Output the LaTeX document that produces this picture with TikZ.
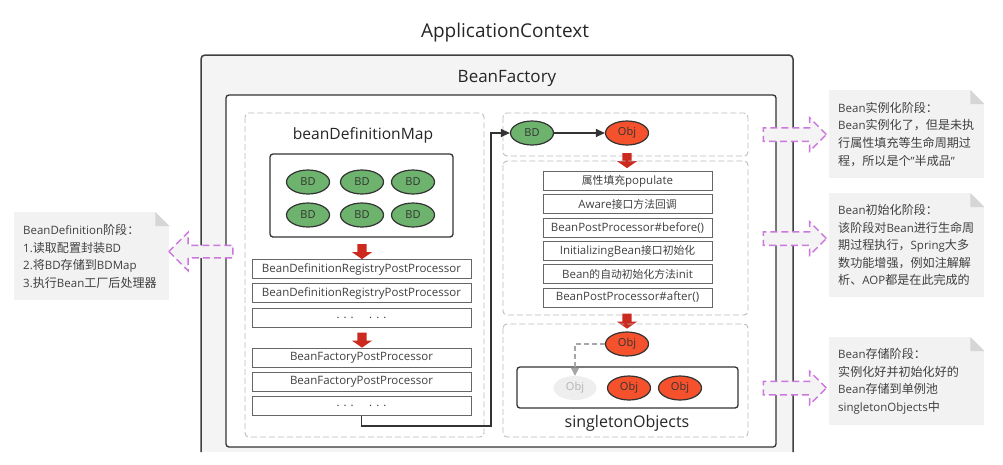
\documentclass[tikz,border=0pt]{standalone}
\usepackage{fontspec}
\setmainfont{Open Sans}
\newfontfamily\zh{Noto Sans CJK SC}[Scale=0.94]
\newfontfamily\zhnote{Noto Sans CJK SC}[Scale=1.05]
\usepackage{xcolor}
\usetikzlibrary{shapes.geometric, shapes.arrows, arrows.meta, positioning}

\definecolor{linedark}{HTML}{333333}
\definecolor{bdgreen}{HTML}{6DB36D}
\definecolor{objred}{HTML}{F4512C}
\definecolor{arrowred}{HTML}{CC2A1F}
\definecolor{ghostgray}{HTML}{EEEEEE}
\definecolor{dashgray}{HTML}{BBBBBB}
\definecolor{boxgray}{HTML}{F4F4F4}
\definecolor{notegray}{HTML}{F2F2F2}
\definecolor{foldgray}{HTML}{D6D6D6}
\definecolor{hintpink}{HTML}{CC77DD}

\begin{document}
\begin{tikzpicture}[
        x=1pt, y=-1pt,
        bd/.style={ellipse, draw=linedark, line width=1.2pt, fill=bdgreen, minimum width=43pt, minimum height=24pt, inner sep=0pt, text=black!80, font=\fontsize{11}{11}\selectfont},
        obj/.style={bd, fill=objred},
        ghost/.style={ellipse, fill=ghostgray, minimum width=43pt, minimum height=24pt, inner sep=0pt, text=black!30, font=\fontsize{11}{11}\selectfont},
        procbox/.style={draw=black!60, line width=0.8pt, minimum width=219pt, minimum height=19pt, inner sep=0pt, text=black!75, font=\fontsize{11.5}{11.5}\selectfont},
        lifebox/.style={procbox, minimum width=169pt},
        stage/.style={draw=dashgray, dash pattern=on 6pt off 3pt, rounded corners=4pt, line width=0.9pt},
        holder/.style={draw=linedark, line width=1.3pt, rounded corners=3pt, fill=white},
        downarrow/.style={single arrow, fill=arrowred, rotate=-90, minimum height=15pt, inner xsep=0pt, inner ysep=4.5pt, single arrow head extend=5.5pt, single arrow tip angle=110},
        hint/.style={single arrow, draw=hintpink, fill=boxgray, dash pattern=on 7pt off 4pt, line width=1.5pt, inner xsep=0pt, single arrow tip angle=90},
        note/.style={fill=notegray, minimum width=155pt, minimum height=88pt, inner sep=0pt, text width=137pt, align=left, text=black!75, font=\fontsize{11.5}{17.6}\selectfont},
        conn/.style={draw=linedark, line width=1.2pt, -{Triangle[length=9pt, width=8pt]}}
    ]
    \useasboundingbox (0,0) rectangle (1003,464);

    % ApplicationContext / BeanFactory
    \node[font=\fontsize{19}{19}\selectfont, text=black!85] (appctx) at (505,33) {ApplicationContext};
    \fill[boxgray] (201,55) rectangle (793,452);
    \draw[draw=black!75, line width=1.5pt, rounded corners=4pt] (201,452) -- (201,55) -- (793,55) -- (793,452);
    \node[font=\fontsize{17}{17}\selectfont, text=black!85] (factory) at (507,78) {BeanFactory};
    \draw[holder] (226,95) rectangle (776,447);

    % beanDefinitionMap
    \draw[stage] (245,113) rectangle (484,437);
    \node[font=\fontsize{15.6}{15.6}\selectfont, text=black!85] (bdmap) at (363,135) {beanDefinitionMap};
    \draw[holder] (270,154) rectangle (453,237);
    \node[bd] (bd1) at (308,182) {BD};
    \node[bd] (bd2) at (362,182) {BD};
    \node[bd] (bd3) at (413,182) {BD};
    \node[bd] (bd4) at (308,215) {BD};
    \node[bd] (bd5) at (362,215) {BD};
    \node[bd] (bd6) at (413,215) {BD};
    \node[downarrow] (down1) at (362,250) {};

    \node[procbox] (p1) at (361.5,269) {BeanDefinitionRegistryPostProcessor};
    \node[procbox, below=4.5pt of p1] (p2) {BeanDefinitionRegistryPostProcessor};
    \node[procbox, below=4.5pt of p2] (p3) {. . . \quad . . .};
    \node[downarrow] (down2) at (362,338.5) {};
    \node[procbox] (p4) at (361.5,357.5) {BeanFactoryPostProcessor};
    \node[procbox, below=4.5pt of p4] (p5) {BeanFactoryPostProcessor};
    \node[procbox, below=4.5pt of p5] (p6) {. . . \quad . . .};

    % instantiation
    \draw[stage] (503,113) rectangle (748,156);
    \node[bd] (bdnew) at (532,133) {BD};
    \node[obj] (objnew) at (627,133) {Obj};
    \coordinate (turn) at (491,426);
    \draw[conn] (p6.south) |- (turn) |- (bdnew.west);
    \draw[conn] (bdnew) -- (objnew);
    \node[downarrow] (down3) at (627,159) {};

    % initialization
    \draw[stage] (503,161) rectangle (748,315);
    \node[lifebox] (l1) at (627.5,181) {{\zh 属性填充}populate};
    \node[lifebox, below=3.5pt of l1] (l2) {Aware{\zh 接口方法回调}};
    \node[lifebox, below=3.5pt of l2] (l3) {BeanPostProcessor\#before()};
    \node[lifebox, below=3.5pt of l3] (l4) {InitializingBean{\zh 接口初始化}};
    \node[lifebox, below=3.5pt of l4] (l5) {Bean{\zh 的自动初始化方法}init};
    \node[lifebox, below=3.5pt of l5] (l6) {BeanPostProcessor\#after()};
    \node[downarrow] (down4) at (627,319.5) {};

    % singletonObjects
    \draw[stage] (503,324) rectangle (748,437);
    \node[obj] (objdone) at (627,344) {Obj};
    \draw[holder] (517,367) rectangle (738,408);
    \node[ghost] (ghostobj) at (575,388) {Obj};
    \node[obj] (obj1) at (629,388) {Obj};
    \node[obj] (obj2) at (680,388) {Obj};
    \node[font=\fontsize{16}{16}\selectfont, text=black!85] (singletons) at (627,423) {singletonObjects};
    \draw[draw=black!35, line width=1.2pt, dash pattern=on 5pt off 3pt, -{Triangle[length=8pt, width=8pt]}] (objdone.west) -| (ghostobj.north);

    % notes
    \node[note, anchor=north west] (noteleft) at (14,212) {BeanDefinition{\zhnote 阶段：}\\1.{\zhnote 读取配置封装}BD\\2.{\zhnote 将}BD{\zhnote 存储到}BDMap\\3.{\zhnote 执行}Bean{\zhnote 工厂后处理器}};
    \node[note, anchor=north west] (noteinst) at (829,90) {Bean{\zhnote 实例化阶段：}\\Bean{\zhnote 实例化了，但是未执}\\{\zhnote 行属性填充等生命周期过}\\{\zhnote 程，所以是个}"{\zhnote 半成品}"};
    \node[note, anchor=north west, minimum height=104pt] (noteinit) at (829,193) {Bean{\zhnote 初始化阶段：}\\{\zhnote 该阶段对}Bean{\zhnote 进行生命周}\\{\zhnote 期过程执行，}Spring{\zhnote 大多}\\{\zhnote 数功能增强，例如注解解}\\{\zhnote 析、}AOP{\zhnote 都是在此完成的}};
    \node[note, anchor=north west] (notestore) at (829,337) {Bean{\zhnote 存储阶段：}\\{\zhnote 实例化好并初始化好的}\\Bean{\zhnote 存储到单例池}\\singletonObjects{\zhnote 中}};
    \foreach \n in {noteleft, noteinst, noteinit, notestore} {
        \fill[white] (\n.north east) -- ++(-14,0) -- ++(14,14) -- cycle;
        \fill[foldgray] (\n.north east) ++(-14,0) -- ++(0,14) -- ++(14,0) -- cycle;
    }

    % stage hints
    \node[hint, rotate=180, minimum height=64pt, inner ysep=5.5pt, single arrow head extend=13pt] (hintleft) at (204,251.5) {};
    \node[hint, minimum height=63pt, inner ysep=6pt, single arrow head extend=10pt] (hintinst) at (791.5,134.5) {};
    \node[hint, minimum height=63pt, inner ysep=6pt, single arrow head extend=10pt] (hintinit) at (791.5,238.5) {};
    \node[hint, minimum height=63pt, inner ysep=6pt, single arrow head extend=10pt] (hintstore) at (791.5,388) {};
\end{tikzpicture}
\end{document}
